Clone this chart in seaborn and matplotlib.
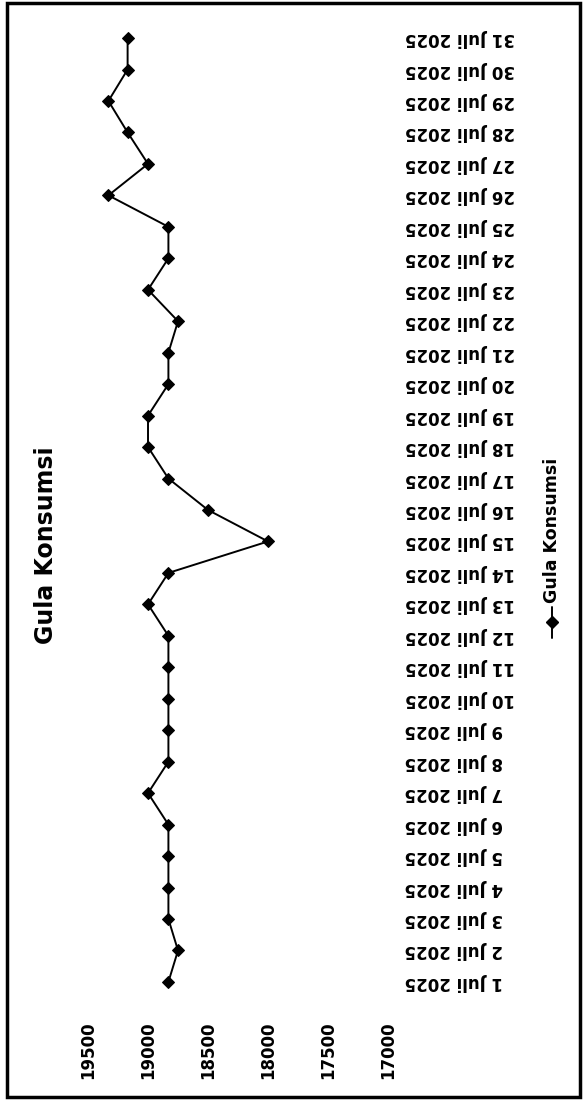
import pandas as pd
import matplotlib
matplotlib.use('Agg')
import matplotlib.pyplot as plt
from matplotlib.lines import Line2D
from matplotlib.patches import Rectangle
import seaborn as sns

# data (Juli 2025)
hari = list(range(1, 32))
label_tanggal = [f'{h} Juli 2025' for h in hari]
harga = [18830, 18750, 18830, 18830, 18830, 18830, 19000, 18830, 18830, 18830,
         18830, 18830, 19000, 18830, 18000, 18500, 18830, 19000, 19000, 18830,
         18830, 18750, 19000, 18830, 18830, 19330, 19000, 19170, 19330, 19170,
         19170]
sumbu_nilai = [19500, 19000, 18500, 18000, 17500, 17000]

df = pd.DataFrame({'hari': hari, 'harga': harga})

sns.set_theme(style='white')
plt.rcParams['font.family'] = ['DejaVu Sans']
plt.rcParams['font.weight'] = 'bold'
plt.rcParams['text.color'] = 'black'
plt.rcParams['xtick.color'] = 'black'
plt.rcParams['ytick.color'] = 'black'

fig = plt.figure(figsize=(5.84, 11.10), dpi=100)
ax = fig.add_axes([0.1507, 0.1012, 0.5137, 0.8787])

sns.lineplot(data=df, x='harga', y='hari', orient='y', ax=ax, color='black',
             linewidth=1.4, marker='D', markersize=6.5, markeredgecolor='black')

# value axis: 19500 on the left, 17000 on the right
ax.set_xlim(19500, 17000)
ax.set_xticks(sumbu_nilai)
ax.set_xticklabels([str(v) for v in sumbu_nilai], rotation=90, fontsize=12,
                   fontweight='bold', color='black')
ax.tick_params(axis='x', length=0, pad=17)

# date axis on the right, labels upside down
ax.set_ylim(0.5, 31.5)
ax.yaxis.tick_right()
ax.set_yticks(hari)
ax.set_yticklabels(label_tanggal, fontsize=12, fontweight='bold', color='black')
ax.tick_params(axis='y', length=0, pad=12)
plt.setp(ax.get_yticklabels(), rotation=180, ha='right', va='center',
         rotation_mode='anchor')

ax.set_xlabel('')
ax.set_ylabel('')
for s in ax.spines.values():
    s.set_visible(False)

# title, rotated
fig.text(46 / 584, 1 - 545 / 1110, 'Gula Konsumsi', rotation=90, ha='center',
         va='center', fontsize=17, fontweight='bold', color='black')

# legend, drawn by hand because it is rotated
lx = 552 / 584
fig.add_artist(Line2D([lx, lx], [1 - 607 / 1110, 1 - 638 / 1110], color='black',
                      linewidth=1.4))
fig.add_artist(Line2D([lx], [1 - 622 / 1110], color='black', marker='D',
                      markersize=6.5, linestyle='none'))
fig.text(lx, 1 - 603 / 1110, 'Gula Konsumsi', rotation=90, ha='center',
         va='bottom', fontsize=12.5, fontweight='bold', color='black')

# outer frame
fig.add_artist(Rectangle((7 / 584, 1 - 1097 / 1110), 573 / 584, 1094 / 1110,
                         transform=fig.transFigure, fill=False,
                         edgecolor='black', linewidth=2.5))

fig.savefig('out.png', dpi=100)
